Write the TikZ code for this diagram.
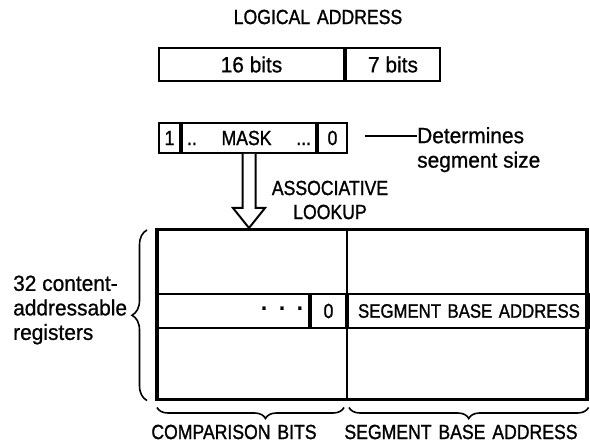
\documentclass[tikz,border=0pt]{standalone}
\usepackage{fontspec}
\setmainfont{Liberation Sans}
\newfontfamily\capsfam[FakeStretch=0.86,FakeBold=1.2,WordSpace=1.4]{Liberation Sans}
\newfontfamily\lowfam[FakeStretch=0.95,FakeBold=0.8]{Liberation Sans}
\usetikzlibrary{
  calc,
  decorations.pathreplacing,
  positioning
}
\newcommand{\capsfont}{\capsfam\fontsize{20.5}{24}\selectfont}
\newcommand{\lowfont}{\lowfam\fontsize{22}{24.5}\selectfont}
\tikzset{
  cell/.style={draw,line width=2pt,inner sep=0pt,font=\lowfont},
  capcell/.style={cell,font=\capsfont},
  caps/.style={font=\capsfont,inner sep=0pt},
  words/.style={font=\lowfont,inner sep=0pt,align=left},
  curly/.style={decorate,decoration={brace,amplitude=#1},line width=1.6pt}
}

\begin{document}
\begin{tikzpicture}[x=1pt,y=-1pt]
  \useasboundingbox (0,0) rectangle (590,446);
  \node[caps] (title) at (318,17) {LOGICAL ADDRESS};
  \node[cell,minimum width=185pt,minimum height=33pt,anchor=north west] (hi) at (158,47) {16 bits};
  \node[cell,minimum width=94pt,minimum height=33pt,right=0pt of hi] (lo) {7 bits};
  \node[capcell,minimum width=21pt,minimum height=30pt,anchor=north west] (one) at (158,122) {1};
  \node[capcell,minimum width=134pt,minimum height=30pt,text width=124pt,right=0pt of one] (mask) {..\hfill MASK\hfill...};
  \node[capcell,minimum width=29pt,minimum height=30pt,right=0pt of mask] (zero) {0};
  \coordinate (tick) at (365,136);
  \node[words,anchor=north west] (det) at (417,127) {Determines\\segment size};
  \draw[line width=2.4pt] (tick) -- (tick -| det.west);
  \coordinate (tip) at (mask.south |- 0,228);
  \draw[line width=2pt,fill=white] ($(mask.south)+(-6.5,0)$) -- ($(tip)+(-6.5,-20)$)
    -- ($(tip)+(-16,-20)$) -- (tip) -- ($(tip)+(16,-20)$) -- ($(tip)+(6.5,-20)$)
    -- ($(mask.south)+(6.5,0)$);
  \node[caps,align=center] (assoc) at (330,200) {ASSOCIATIVE\\LOOKUP};
  \node[draw,line width=3.5pt,minimum width=430pt,minimum height=170pt,anchor=north west] (regs) at (155,228) {};
  \node[cell,minimum width=153pt,minimum height=34pt,text width=143pt,anchor=north west] (dots) at (155,293) {\hfill\textbf{·\enspace·\enspace·}};
  \node[capcell,minimum width=35pt,minimum height=34pt,right=0pt of dots] (bit) {0};
  \node[capcell,minimum width=242pt,minimum height=34pt,right=0pt of bit,
    font=\capsfam\fontsize{19.5}{24}\selectfont] (base) {SEGMENT BASE ADDRESS};
  \draw[line width=2pt] (regs.north -| base.west) -- (regs.south -| base.west);
  \draw[curly=15pt] ([xshift=-8pt,yshift=1pt]regs.south west) -- ([xshift=-8pt,yshift=-2pt]regs.north west);
  \node[words,anchor=west] (cam) at (13,310) {32 content-\\addressable\\registers};
  \coordinate (split) at (regs.south -| base.west);
  \draw[curly=11pt,decoration={aspect=0.42}] ([xshift=-3pt,yshift=-6pt]split) -- ([xshift=2pt,yshift=-6pt]regs.south west);
  \draw[curly=11pt] ([yshift=-6pt]regs.south east) -- ([xshift=2pt,yshift=-6pt]split);
  \node[caps] (cmp) at (234,432) {COMPARISON BITS};
  \node[caps] (sba) at (461,432) {SEGMENT BASE ADDRESS};
\end{tikzpicture}
\end{document}
